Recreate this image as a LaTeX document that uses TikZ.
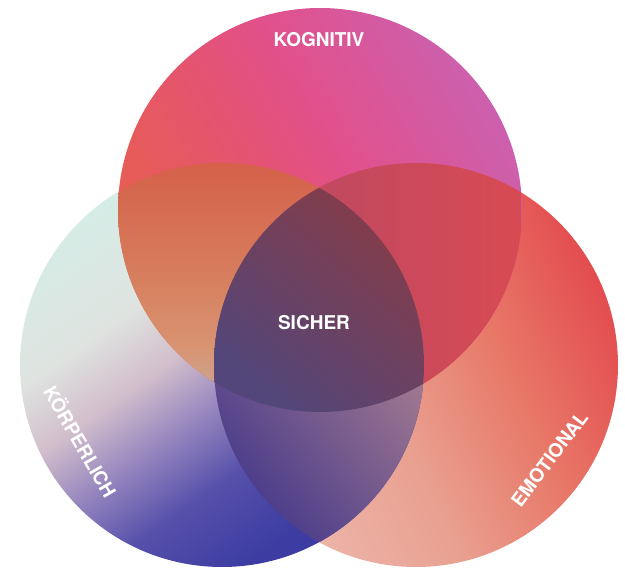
\documentclass[tikz,border=0pt]{standalone}
\usepackage{fontspec}
\setmainfont{TeX Gyre Heros}
\definecolor{mint}{HTML}{D6ECE6}
\definecolor{mintB}{HTML}{DFE3E0}
\definecolor{lav}{HTML}{D2BECC}
\definecolor{lavB}{HTML}{9484BE}
\definecolor{indigB}{HTML}{5650AA}
\definecolor{indig}{HTML}{3C3CA2}
\definecolor{tMag}{HTML}{CC60AE}
\definecolor{tPink}{HTML}{E2508A}
\definecolor{tPinkB}{HTML}{E45470}
\definecolor{tRed}{HTML}{E9604A}
\definecolor{rRed}{HTML}{E34C50}
\definecolor{rMid}{HTML}{E87868}
\definecolor{rMidB}{HTML}{E9A090}
\definecolor{rPale}{HTML}{EDBAB0}
\definecolor{ltA}{HTML}{D5604A}
\definecolor{ltAB}{HTML}{D67A5A}
\definecolor{ltB}{HTML}{D89472}
\definecolor{ltC}{HTML}{C4AEA0}
\definecolor{rtA}{HTML}{B44868}
\definecolor{rtB}{HTML}{D84A52}
\definecolor{lrA}{HTML}{A07890}
\definecolor{lrB}{HTML}{44388A}
\definecolor{cA}{HTML}{863C48}
\definecolor{cB}{HTML}{52467A}
\pgfdeclareverticalshading{leftsh}{100bp}{color(0bp)=(indig); color(28bp)=(indig); color(38bp)=(indigB); color(46bp)=(lavB); color(54bp)=(lav); color(62bp)=(mintB); color(75bp)=(mint); color(100bp)=(mint)}
\pgfdeclareverticalshading{topsh}{100bp}{color(0bp)=(tRed); color(25bp)=(tRed); color(45bp)=(tPinkB); color(55bp)=(tPink); color(75bp)=(tMag); color(100bp)=(tMag)}
\pgfdeclareverticalshading{rightsh}{100bp}{color(0bp)=(rPale); color(25bp)=(rPale); color(45bp)=(rMidB); color(60bp)=(rMid); color(75bp)=(rRed); color(100bp)=(rRed)}
\pgfdeclareverticalshading{ltsh}{100bp}{color(0bp)=(ltC); color(25bp)=(ltC); color(38bp)=(ltB); color(55bp)=(ltAB); color(75bp)=(ltA); color(100bp)=(ltA)}
\tikzset{
  lbl/.style={text=white, font=\fontsize{19}{19}\selectfont\bfseries, inner sep=0pt, text height=1.4ex, text depth=0pt},
}
\begin{document}
\begin{tikzpicture}[x=1pt,y=1pt]
\useasboundingbox (0,0) rectangle (625,570);
\def\rr{202}
\coordinate (cT) at (320,360);
\coordinate (cL) at (222,205);
\coordinate (cR) at (416,205);
% base circles
\shade[shading=rightsh, shading angle=-65] (cR) circle (\rr);
\shade[shading=leftsh, shading angle=35] (cL) circle (\rr);
\shade[shading=topsh, shading angle=-60] (cT) circle (\rr);
% left & top
\begin{scope}
  \clip (cL) circle (\rr);
  \clip (cT) circle (\rr);
  \shade[shading=ltsh] (118,158) rectangle (424,408);
\end{scope}
% right & top
\begin{scope}
  \clip (cR) circle (\rr);
  \clip (cT) circle (\rr);
  \shade[left color=rtA, right color=rtB] (215,158) rectangle (521,408);
\end{scope}
% left & right
\begin{scope}
  \clip (cL) circle (\rr);
  \clip (cR) circle (\rr);
  \shade[top color=lrA, bottom color=lrB, shading angle=-50] (214,28) rectangle (424,250);
\end{scope}
% centre
\begin{scope}
  \clip (cL) circle (\rr);
  \clip (cR) circle (\rr);
  \clip (cT) circle (\rr);
  \shade[top color=cA, bottom color=cB, shading angle=-40] (214,158) rectangle (424,385);
\end{scope}
% labels
\node[lbl] (kog) at (319,527) {KOGNITIV};
\node[lbl] (sic) at (314,244) {SICHER};
\node[lbl, rotate=-60] (koe) at (77,126) {KÖRPERLICH};
\node[lbl, rotate=53] (emo) at (552,109) {EMOTIONAL};
\end{tikzpicture}
\end{document}
